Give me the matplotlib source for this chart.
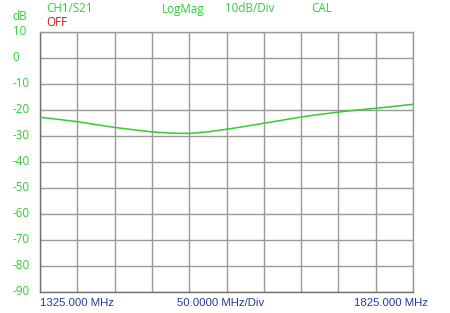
import numpy as np
import matplotlib
matplotlib.use("Agg")
import matplotlib.pyplot as plt

# frequency points (MHz) and S21 log magnitude (dB)
freq_mhz = [1325, 1350, 1375, 1400, 1425, 1450, 1475, 1500, 1525, 1550,
            1575, 1600, 1625, 1650, 1675, 1700, 1725, 1750, 1775, 1800, 1825]
s21_db = [-22.8, -23.6, -24.5, -25.6, -26.7, -27.6, -28.4, -28.9, -29.0, -28.4,
          -27.4, -26.3, -25.1, -23.9, -22.7, -21.7, -20.8, -20.0, -19.35, -18.6, -17.8]

y_ticks = [10, 0, -10, -20, -30, -40, -50, -60, -70, -80, -90]
f_start, f_stop, f_div = 1325, 1825, 50

green = "#33cc33"
red = "#cc1111"
blue = "#1f3c9c"
grid_col = "#9a9a9a"
top_fs = 8.4
top_font = "Open Sans"

fig = plt.figure(figsize=(4.5, 3.13), dpi=100)
ax = fig.add_axes([40 / 450, 1 - 292 / 313, 373 / 450, 260 / 313])

ax.plot(freq_mhz, s21_db, color=green, lw=1.1, zorder=3)

ax.set_xlim(f_start, f_stop)
ax.set_ylim(-90, 10)
ax.set_xticks(np.arange(f_start, f_stop + 1, f_div))
ax.set_yticks(y_ticks)
ax.grid(True, color=grid_col, lw=1.0)
ax.tick_params(length=0, labelleft=False, labelbottom=False)
for side in ["top", "right", "left", "bottom"]:
    ax.spines[side].set_color(grid_col)
    ax.spines[side].set_linewidth(1.0)
ax.spines["left"].set_color("#707070")
ax.spines["bottom"].set_color("#707070")

# y labels in figure pixels, left aligned like the analyser screen
for v in y_ticks:
    ypix = 32 + (10 - v) * 2.6 - 0.8
    fig.text(12.5 / 450, 1 - ypix / 313, str(v), color=green, fontsize=top_fs,
             ha="left", va="center", family=top_font)

fig.text(12.5 / 450, 1 - 16 / 313, "dB", color=green, fontsize=top_fs,
         ha="left", va="center", family=top_font)
fig.text(46 / 450, 1 - 9 / 313, "CH1/S21", color=green, fontsize=top_fs,
         ha="left", va="center", family=top_font)
fig.text(46 / 450, 1 - 22 / 313, "OFF", color=red, fontsize=top_fs,
         ha="left", va="center", family=top_font)
fig.text(162 / 450, 1 - 9 / 313, "LogMag", color=green, fontsize=top_fs,
         ha="left", va="center", family=top_font)
fig.text(225 / 450, 1 - 9 / 313, "10dB/Div", color=green, fontsize=top_fs,
         ha="left", va="center", family=top_font)
fig.text(311 / 450, 1 - 9 / 313, "CAL", color=green, fontsize=top_fs,
         ha="left", va="center", family=top_font)

fig.text(40 / 450, 1 - 303 / 313, f"{f_start:.3f} MHz", color=blue, fontsize=8.2,
         ha="left", va="center", family="Liberation Sans")
fig.text(221 / 450, 1 - 303 / 313, f"{f_div:.4f} MHz/Div", color=blue, fontsize=8.2,
         ha="center", va="center", family="Liberation Sans")
fig.text(428 / 450, 1 - 303 / 313, f"{f_stop:.3f} MHz", color=blue, fontsize=8.2,
         ha="right", va="center", family="Liberation Sans")

fig.savefig("out.png", dpi=100)
